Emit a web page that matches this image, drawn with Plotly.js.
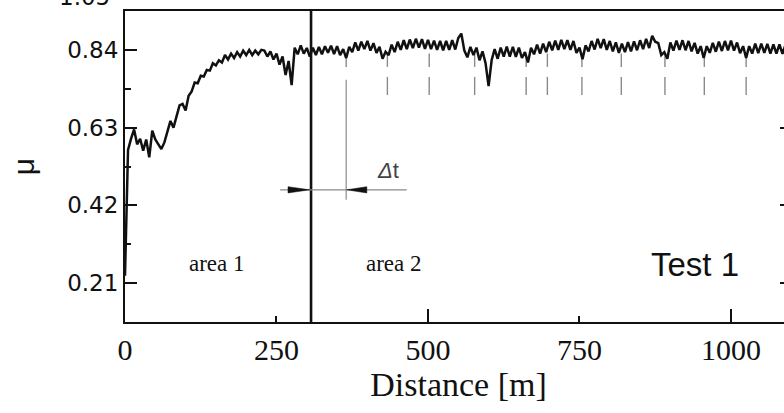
<!DOCTYPE html>
<html>
<head>
<meta charset="utf-8">
<script src="https://cdn.plot.ly/plotly-3.0.1.min.js"></script>
<style>
html,body{margin:0;padding:0;background:#fff;overflow:hidden;width:784px;height:413px;}
#chart{width:792px;height:413px;}
</style>
</head>
<body>
<div id="chart"></div>
<script>
// ---- data ----
const distStart = 0;      // m
const distStep = 5;       // m
const mu = [
  0.230,0.570,0.600,0.625,0.585,0.600,0.568,0.598,0.550,0.622,
  0.598,0.583,0.572,0.590,0.622,0.648,0.630,0.662,0.690,0.694,
  0.676,0.716,0.728,0.752,0.750,0.770,0.768,0.786,0.784,0.804,
  0.798,0.812,0.806,0.826,0.814,0.830,0.818,0.834,0.822,0.838,
  0.826,0.840,0.826,0.838,0.828,0.840,0.838,0.822,0.836,0.814,
  0.830,0.800,0.822,0.772,0.810,0.745,
  0.846,0.828,0.852,0.830,0.845,0.822,0.846,0.826,0.848,0.828,
  0.850,0.832,0.851,0.829,0.850,0.826,0.842,0.818,0.848,0.834,
  0.860,0.838,0.862,0.842,0.864,0.838,0.858,0.832,0.848,0.816,
  0.835,0.826,0.854,0.834,0.862,0.840,0.866,0.842,0.868,0.845,
  0.870,0.846,0.869,0.843,0.867,0.842,0.865,0.840,0.864,0.839,
  0.864,0.840,0.866,0.841,0.872,0.884,0.838,0.820,0.848,0.826,
  0.846,0.812,0.836,0.804,0.742,0.812,0.842,0.816,0.846,0.822,
  0.849,0.822,0.848,0.821,0.846,0.818,0.834,0.806,0.846,0.828,
  0.854,0.830,0.857,0.834,0.862,0.839,0.865,0.840,0.867,0.842,
  0.866,0.840,0.864,0.832,0.846,0.815,0.852,0.836,0.864,0.841,
  0.870,0.845,0.869,0.840,0.864,0.836,0.860,0.832,0.857,0.834,
  0.861,0.836,0.863,0.839,0.866,0.842,0.870,0.845,0.878,0.862,
  0.858,0.826,0.834,0.816,0.860,0.838,0.865,0.840,0.866,0.839,
  0.864,0.836,0.859,0.830,0.850,0.818,0.850,0.832,0.859,0.835,
  0.862,0.837,0.864,0.839,0.865,0.838,0.860,0.831,0.850,0.818,
  0.850,0.830,0.857,0.831,0.857,0.832,0.856,0.830,0.855,0.830,
  0.855,0.829,0.854
];
const xTickVals = [0, 250, 500, 750, 1000];
const xTickText = ["0", "250", "500", "750", "1000"];
const yTickVals = [0.21, 0.42, 0.63, 0.84];
const yTickText = ["0.21", "0.42", "0.63", "0.84"];
const cutTopLabel = "1.05";

const boundaryX = 307;                       // area 1 / area 2 border
const markerX = [365, 433, 502, 577, 662, 697, 754, 819, 891, 956, 1025];
const markerUpper = [0.830, 0.794];
const markerLower = [0.767, 0.718];
const dtLineX = 365;
const dtLineSpan = [0.759, 0.435];
const arrowY = 0.462;
const arrowLineSpan = [256, 465];
const arrowHeads = [{tip: 305, base: 269}, {tip: 366, base: 399}];
const areaLabels = ["area 1", "area 2"];
const areaLabelX = [152, 444];
const areaLabelY = 0.264;
const testLabel = "Test 1";
const testLabelPos = [940, 0.259];
const dtLabel = "<i>Δ</i>t";
const dtLabelPos = [434, 0.513];

// ---- figure ----
const black = "#111111";
const grey = "#8a8a8a";
const tickFontFamily = "DejaVu Sans, Liberation Sans, Arial, sans-serif";
const shapes = [];
shapes.push({type: "line", xref: "x", yref: "paper", x0: boundaryX, x1: boundaryX, y0: 0, y1: 1,
             line: {color: black, width: 2.6}});
markerX.forEach(function (mx) {
  shapes.push({type: "line", xref: "x", yref: "y", x0: mx, x1: mx, y0: markerUpper[0], y1: markerUpper[1],
               line: {color: grey, width: 1.4}, layer: "below"});
  if (mx !== dtLineX) {
    shapes.push({type: "line", xref: "x", yref: "y", x0: mx, x1: mx, y0: markerLower[0], y1: markerLower[1],
                 line: {color: grey, width: 1.4}});
  }
});
shapes.push({type: "line", xref: "x", yref: "y", x0: dtLineX, x1: dtLineX, y0: dtLineSpan[0], y1: dtLineSpan[1],
             line: {color: grey, width: 1.2}});
shapes.push({type: "line", xref: "x", yref: "y", x0: arrowLineSpan[0], x1: arrowLineSpan[1], y0: arrowY, y1: arrowY,
             line: {color: grey, width: 1.2}});
const hh = 0.0085;
arrowHeads.forEach(function (a) {
  shapes.push({type: "path", xref: "x", yref: "y",
    path: "M " + a.base + "," + (arrowY - hh) + " L " + a.tip + "," + arrowY + " L " + a.base + "," + (arrowY + hh) + " Z",
    fillcolor: black, line: {color: black, width: 0.5}});
});

const annotations = [];
areaLabels.forEach(function (t, i) {
  annotations.push({x: areaLabelX[i], y: areaLabelY, xref: "x", yref: "y", text: t, showarrow: false,
    font: {family: "Liberation Serif, Times New Roman, serif", size: 23, color: black}});
});
annotations.push({x: testLabelPos[0], y: testLabelPos[1], xref: "x", yref: "y", text: testLabel, showarrow: false,
  font: {family: "Liberation Sans, Arial, sans-serif", size: 33, color: black}});
annotations.push({x: dtLabelPos[0], y: dtLabelPos[1], xref: "x", yref: "y", text: dtLabel, showarrow: false,
  font: {family: "Liberation Sans, Arial, sans-serif", size: 22, color: "#444444"}});
annotations.push({x: 0, y: 1.0, xref: "paper", yref: "paper", xanchor: "right", yanchor: "bottom",
  xshift: -13, yshift: -1, text: cutTopLabel, showarrow: false,
  font: {family: tickFontFamily, size: 23, color: black}});

const traces = [{
  type: "scatter", mode: "lines", x0: distStart, dx: distStep, y: mu,
  line: {color: black, width: 2.5}, hoverinfo: "skip", showlegend: false
}, {
  type: "scatter", mode: "lines", x: [], y: [], xaxis: "x2", showlegend: false, hoverinfo: "skip"
}];

const xRange = [0, 1100.7];
const layout = {
  width: 792, height: 413,
  margin: {l: 125, r: 0, t: 11, b: 91, pad: 0},
  paper_bgcolor: "#ffffff", plot_bgcolor: "#ffffff",
  showlegend: false,
  xaxis: {
    range: xRange, tickmode: "array", tickvals: xTickVals, ticktext: xTickText,
    ticks: "inside", ticklen: 6, tickwidth: 2, tickcolor: black,
    showline: true, linecolor: black, linewidth: 2.4, mirror: true,
    showgrid: false, zeroline: false,
    tickfont: {family: "Liberation Serif, Times New Roman, serif", size: 30, color: black},
    title: {text: "Distance [m]", font: {family: "Liberation Serif, Times New Roman, serif", size: 34, color: black}, standoff: 6}
  },
  xaxis2: {
    overlaying: "x", matches: "x", range: xRange, tickmode: "array", tickvals: [500, 1000],
    ticks: "inside", ticklen: 13, tickwidth: 2, tickcolor: black, showticklabels: false,
    showline: false, showgrid: false, zeroline: false, side: "bottom", anchor: "y"
  },
  yaxis: {
    range: [0.105, 0.945], tickmode: "array", tickvals: yTickVals, ticktext: yTickText,
    ticks: "inside", ticklen: 12, tickwidth: 2, tickcolor: black,
    minor: {tickvals: [0.315, 0.525, 0.735], ticks: "inside", ticklen: 6, tickwidth: 2, tickcolor: black, showgrid: false},
    showline: true, linecolor: black, linewidth: 2, mirror: "ticks",
    showgrid: false, zeroline: false,
    tickfont: {family: tickFontFamily, size: 23, color: black},
    title: {text: "μ", font: {family: "Liberation Sans, Arial, sans-serif", size: 30, color: black}, standoff: 24}
  },
  shapes: shapes,
  annotations: annotations
};

Plotly.newPlot("chart", traces, layout, {staticPlot: true, displayModeBar: false});
</script>
</body>
</html>
